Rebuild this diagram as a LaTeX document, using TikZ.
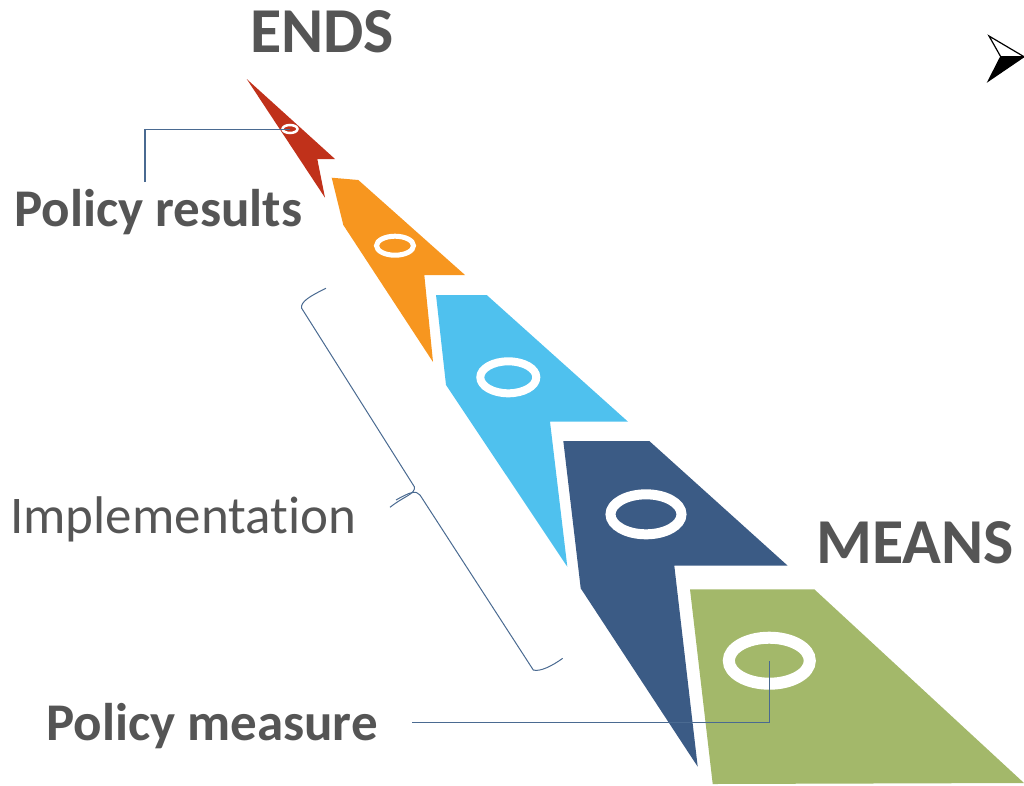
\documentclass[tikz,border=0pt]{standalone}
\usepackage{fontspec}
\setmainfont{Carlito}[Ligatures=NoCommon]
\usetikzlibrary{positioning}
\definecolor{endred}{HTML}{C0311A}
\definecolor{steporange}{HTML}{F7961F}
\definecolor{stepsky}{HTML}{4FC1EE}
\definecolor{stepnavy}{HTML}{3B5B85}
\definecolor{meangreen}{HTML}{A3B86A}
\definecolor{labelgray}{HTML}{555555}
\definecolor{linkblue}{HTML}{4A6A91}
\tikzset{>=latex}
\tikzset{
  ring/.style={draw=white},
  link/.style={draw=linkblue, line width=1.2},
  bigtitle/.style={text=labelgray, inner sep=0pt, font=\fontsize{64}{64}\selectfont\bfseries},
  sidelabel/.style={text=labelgray, inner sep=0pt, font=\fontsize{53}{53}\selectfont\bfseries}
}

\begin{document}
\begin{tikzpicture}[x=1pt, y=-1pt]
\useasboundingbox (0,0) rectangle (1024,785);

% the five steps, from ends to means
\fill[endred] (246.7,79) -- (335,159) -- (317.3,159) -- (325,197.7) -- cycle;
\fill[steporange] (331.7,177.7) -- (358.3,180) -- (465,275) -- (424.3,275) -- (433,362) -- (343.3,225) -- cycle;
\fill[stepsky] (436,295) -- (486.7,295) -- (628,421.7) -- (550,421.7) -- (567.3,566.7) -- (446,385) -- cycle;
\fill[stepnavy] (563.3,441) -- (649.3,441) -- (787.7,565.7) -- (674.3,565.7) -- (697.7,766.7) -- (580.7,588.3) -- cycle;
\fill[meangreen] (690,589.3) -- (814.3,589.3) -- (1024,783) -- (712.7,784) -- cycle;

% rings
\draw[ring, line width=2.5] (290,129) ellipse [x radius=7.5, y radius=4];
\draw[ring, line width=5] (395,245.7) ellipse [x radius=18.5, y radius=9.5];
\draw[ring, line width=8] (508.3,377.3) ellipse [x radius=28, y radius=16];
\draw[ring, line width=10] (646,514.3) ellipse [x radius=35.5, y radius=20];
\draw[ring, line width=12] (769.3,660.7) ellipse [x radius=40.5, y radius=23];

% titles
\node[bigtitle, anchor=base] (ends) at (322,52) {ENDS};
\node[bigtitle, anchor=base] (means) at (915,563) {MEANS};

% labels
\node[sidelabel, anchor=base west] (results) at (14,226) {Policy results};
\node[sidelabel, anchor=base west] (measure) at (46,740) {Policy measure};
\node[text=labelgray, inner sep=0pt, anchor=base west, font=\fontsize{53}{53}\selectfont] (impl) at (10,533) {Implementation};

% connectors
\coordinate (redring) at (290,129.5);
\coordinate (greenring) at (769.7,661);
\coordinate (resultsend) at (145,182);
\coordinate (measureend) at (412,722.5);
\draw[link] (resultsend) |- (redring);
\draw[link] (measureend) -| (greenring);

% brace
\draw[linkblue, line width=1] (326,288.3) .. controls (310,296) and (300,302) .. (301.7,308.3)
  -- (414.3,486.7) .. controls (416,494) and (404,496) .. (390,507.3);
\draw[linkblue, line width=1] (396,500) .. controls (410,492) and (416,490) .. (420,495)
  -- (533.3,670) .. controls (540,672) and (552,666) .. (562.7,658.3);

% pointer
\fill[black] (1000.7,56.7) -- (1024,56.7) -- (988.3,81) -- cycle;
\draw[black, line width=1.2, fill=white] (1000.7,56.7) -- (989,36) -- (1024,56.7) -- cycle;
\draw[black, line width=1.2] (1000.7,56.7) -- (988.3,81) -- (1024,56.7);
\end{tikzpicture}
\end{document}
